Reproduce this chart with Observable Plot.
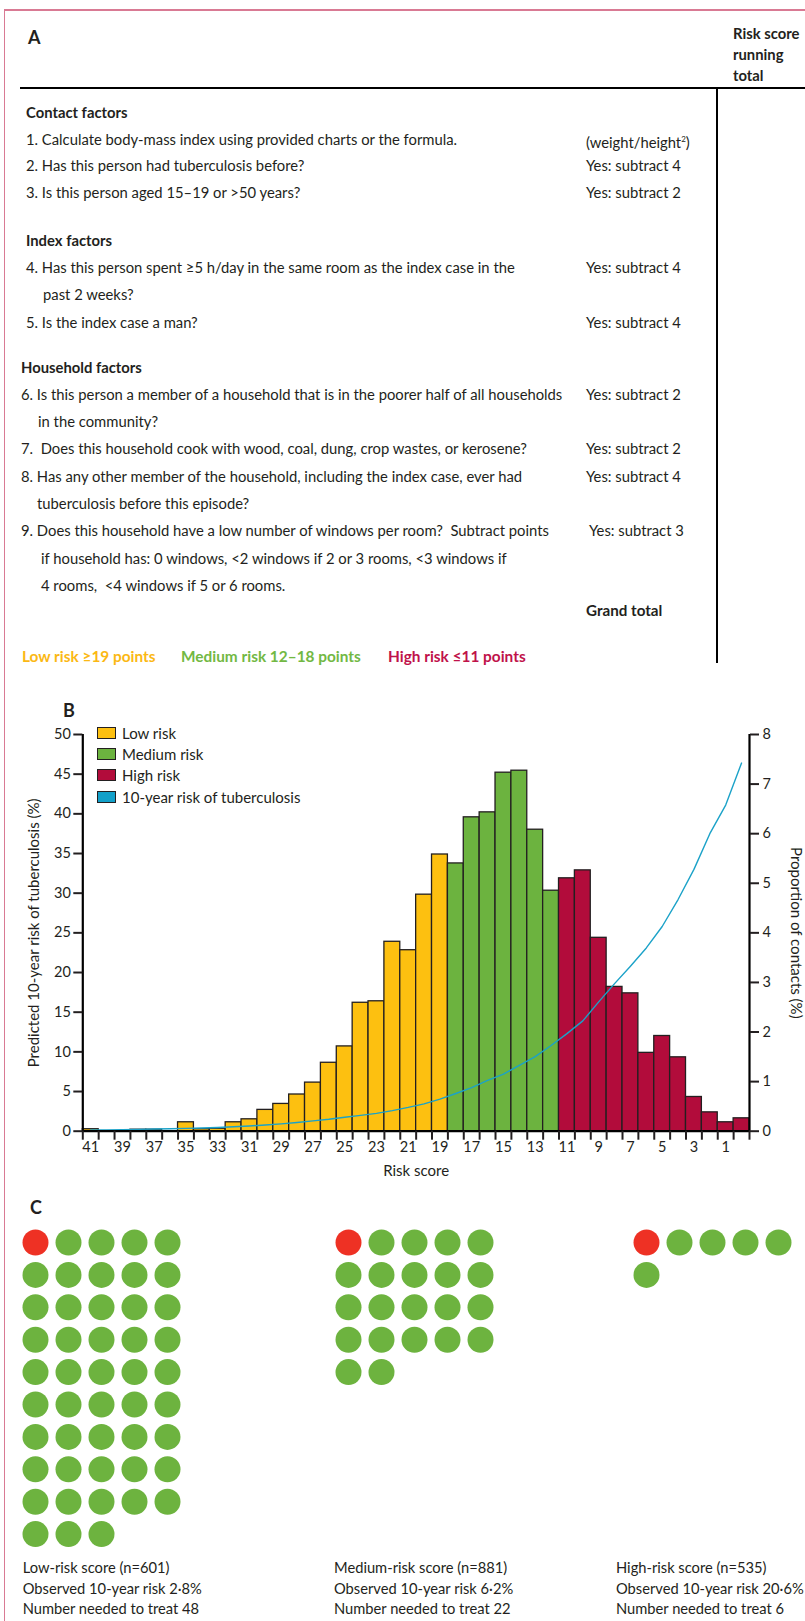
<!DOCTYPE html>
<html>
<head>
<meta charset="utf-8">
<script src="https://cdn.jsdelivr.net/npm/d3@7"></script>
<script src="https://cdn.jsdelivr.net/npm/@observablehq/plot@0.6"></script>
<style>
  html, body { margin: 0; padding: 0; background: #fff; }
  #fig { position: relative; width: 805px; height: 1621px; overflow: hidden; font-family: Lato, "Open Sans", sans-serif; color: #231f20; }
  .t { position: absolute; white-space: pre; line-height: 20px; }
  .b { font-weight: 700; }
  .hl { position: absolute; background: #000; }
  .abs { position: absolute; }
  .abs svg { overflow: visible; }
</style>
</head>
<body>
<div id="fig"></div>
<script>
// ---------------- DATA ----------------
// Panel B: risk score categories (x), share of contacts (bars, right axis) and predicted 10-year risk (line, left axis)
const riskScores = [41,40,39,38,37,36,35,34,33,32,31,30,29,28,27,26,25,24,23,22,21,20,19,18,17,16,15,14,13,12,11,10,9,8,7,6,5,4,3,2,1,0];
const proportionOfContacts = [0.04,0,0,0.03,0.03,0,0.18,0.04,0.05,0.18,0.24,0.43,0.55,0.74,0.98,1.38,1.71,2.59,2.62,3.82,3.65,4.77,5.58,5.40,6.33,6.43,7.23,7.27,6.08,4.85,5.10,5.26,3.90,2.91,2.78,1.58,1.92,1.49,0.69,0.38,0.18,0.26];
const predictedRisk = [0.15,0.17,0.2,0.23,0.27,0.3,0.35,0.4,0.47,0.56,0.66,0.78,0.92,1.1,1.3,1.5,1.75,2.0,2.25,2.6,3.0,3.45,4.05,4.75,5.5,6.4,7.2,8.3,9.4,10.8,12.3,13.9,16.3,18.6,20.8,23.1,25.8,29.2,33.0,37.5,41.1,46.4];
const riskGroups = ["Low risk", "Medium risk", "High risk"];
const lowThreshold = 19;     // Low risk >=19 points
const highThreshold = 11;    // High risk <=11 points
const leftTicks = [0,5,10,15,20,25,30,35,40,45,50];
const rightTicks = [0,1,2,3,4,5,6,7,8];
const xTickLabels = [41,39,37,35,33,31,29,27,25,23,21,19,17,15,13,11,9,7,5,3,1];

// Panel C: number needed to treat per group
const groupNames = ["Low-risk score", "Medium-risk score", "High-risk score"];
const groupN = [601, 881, 535];
const observedRisk = ["2·8%", "6·2%", "20·6%"];
const numberNeededToTreat = [48, 22, 6];

// Panel A: questionnaire
const factorHeadings = ["Contact factors", "Index factors", "Household factors"];
const answers = ["(weight/height<sup style=\"font-size:8px\">2</sup>)", "Yes: subtract 4", "Yes: subtract 2", "Yes: subtract 4", "Yes: subtract 4", "Yes: subtract 2", "Yes: subtract 2", "Yes: subtract 4", "Yes: subtract 3"];
const riskLegend = ["Low risk ≥19 points", "Medium risk 12–18 points", "High risk ≤11 points"];

// ---------------- STYLE ----------------
const colors = {"Low risk": "#fdc010", "Medium risk": "#6cb33f", "High risk": "#b20c3b"};
const legendTextColors = ["#fbb814", "#72b843", "#c0124a"];
const lineColor = "#1ba2c8";
const dotRed = "#ee3124", dotGreen = "#6db33f";
const ink = "#231f20";

const fig = document.getElementById("fig");
function addText(x, yc, html, cls = "", style = "") {
  const d = document.createElement("div");
  d.className = "t " + cls;
  d.style.cssText = `left:${x}px;top:${yc - 10}px;${style}`;
  d.innerHTML = html;
  fig.appendChild(d);
  return d;
}
function addBox(x, y, w, h, color) {
  const d = document.createElement("div");
  d.className = "hl";
  d.style.cssText = `left:${x}px;top:${y}px;width:${w}px;height:${h}px;background:${color};`;
  fig.appendChild(d);
}

// ---------------- FRAME ----------------
addBox(3.5, 9, 802, 1.6, "#d97a94");
addBox(3.5, 9, 1.6, 1612, "#d97a94");

// ---------------- PANEL A ----------------
const fsA = "font-size:14.8px;";
addText(28, 37, "A", "b", "font-size:18px;");
addText(733, 33, "Risk score\nrunning\ntotal", "b", "font-size:14.8px;line-height:21px;");
addBox(20, 87, 785, 2.2, "#000");
addBox(716, 88, 2.2, 575, "#000");

const rightX = 586;
const rowsA = [
  [112, 26, factorHeadings[0], true, null],
  [139, 26, "1. Calculate body-mass index using provided charts or the formula.", false, 0],
  [165, 26, "2. Has this person had tuberculosis before?", false, 1],
  [192, 26, "3. Is this person aged 15–19 or >50 years?", false, 2],
  [240, 26, factorHeadings[1], true, null],
  [267, 26, "4. Has this person spent ≥5 h/day in the same room as the index case in the", false, 3],
  [294, 43, "past 2 weeks?", false, null],
  [322, 26, "5. Is the index case a man?", false, 4],
  [367, 21, factorHeadings[2], true, null],
  [394, 21, "6. Is this person a member of a household that is in the poorer half of all households", false, 5],
  [421, 38, "in the community?", false, null],
  [448, 21, "7.  Does this household cook with wood, coal, dung, crop wastes, or kerosene?", false, 6],
  [476, 21, "8. Has any other member of the household, including the index case, ever had", false, 7],
  [503, 37, "tuberculosis before this episode?", false, null],
  [530, 21, "9. Does this household have a low number of windows per room?  Subtract points", false, 8],
  [558, 41, "if household has: 0 windows, &lt;2 windows if 2 or 3 rooms, &lt;3 windows if", false, null],
  [585, 41, "4 rooms,  &lt;4 windows if 5 or 6 rooms.", false, null]
];
rowsA.forEach(([y, x, txt, bold, ai]) => {
  addText(x, y, txt.replace(/ >/g, " &gt;"), bold ? "b" : "", fsA);
  if (ai !== null) addText(ai === 8 ? rightX + 3 : rightX, y, answers[ai], "", fsA);
});
addText(rightX, 610, "Grand total", "b", "font-size:15.2px;");
const legX = [22, 181, 388];
riskLegend.forEach((t, i) => addText(legX[i], 656, t, "b", `font-size:15.4px;color:${legendTextColors[i]};`));

// ---------------- PANEL B ----------------
addText(63, 710, "B", "b", "font-size:18px;");
const k = 50 / 8; // right axis (0–8 %) mapped onto left axis (0–50 %)
const groupOf = s => s >= lowThreshold ? riskGroups[0] : (s <= highThreshold ? riskGroups[2] : riskGroups[1]);
const table = riskScores.map((s, i) => ({score: s, proportion: proportionOfContacts[i], risk: predictedRisk[i], group: groupOf(s)}));
const bandEdges = d3.range(riskScores.length + 1).map(i => riskScores[0] + 0.5 - i);

const topB = 690, hB = 500;
const plotB = Plot.plot({
  width: 805, height: hB,
  marginTop: 734 - topB, marginBottom: topB + hB - 1130.7, marginLeft: 82.3, marginRight: 805 - 749,
  style: {fontFamily: "Lato, sans-serif", fontSize: "14.5px", color: ink, background: "transparent", overflow: "visible"},
  x: {type: "linear", domain: [bandEdges[0], bandEdges[bandEdges.length - 1]]},
  y: {domain: [0, 50]},
  marks: [
    Plot.rectY(table, {x1: d => d.score + 0.5, x2: d => d.score - 0.5, y1: 0, y2: d => d.proportion * k,
      fill: d => colors[d.group], stroke: ink, strokeWidth: 1.3}),
    Plot.line(table, {x: "score", y: "risk", stroke: lineColor, strokeWidth: 1.4}),
    Plot.ruleY([0], {stroke: "#000", strokeWidth: 2.2}),
    Plot.ruleX([bandEdges[0], bandEdges[bandEdges.length - 1]], {y1: 0, y2: 50, stroke: "#000", strokeWidth: 2.2}),
    Plot.axisY({anchor: "left", ticks: leftTicks, tickSize: 9, tickPadding: 3, strokeWidth: 2, label: null}),
    Plot.axisY({anchor: "right", ticks: rightTicks.map(v => v * k), tickFormat: v => String(Math.round(v / k)), tickSize: 9, tickPadding: 4, strokeWidth: 2, label: null}),
    Plot.axisX({ticks: bandEdges, tickSize: 9, tickFormat: () => "", strokeWidth: 2, label: null}),
    Plot.axisX({ticks: xTickLabels, tickSize: 0, tickPadding: 11, tickFormat: d => String(d), label: null}),
    Plot.text(["Predicted 10-year risk of tuberculosis (%)"], {frameAnchor: "left", textAnchor: "middle", rotate: -90, dx: -49, text: d => d, fontSize: 15}),
    Plot.text(["Proportion of contacts (%)"], {frameAnchor: "right", textAnchor: "middle", rotate: 90, dx: 46, text: d => d, fontSize: 15}),
    Plot.text(["Risk score"], {frameAnchor: "bottom", dy: 45, text: d => d, fontSize: 15})
  ]
});
const holderB = document.createElement("div");
holderB.className = "abs";
holderB.style.cssText = `left:0;top:${topB}px;`;
holderB.appendChild(plotB);
fig.appendChild(holderB);

// legend of panel B
const legendItems = [...riskGroups, "10-year risk of tuberculosis"];
const legendSw = [colors["Low risk"], colors["Medium risk"], colors["High risk"], "#12a0c9"];
const legY = [733, 754, 775, 797];
legendItems.forEach((t, i) => {
  const sw = document.createElement("div");
  sw.className = "abs";
  sw.style.cssText = `left:97px;top:${legY[i] - 6}px;width:17px;height:10px;background:${legendSw[i]};border:1.2px solid ${ink};`;
  fig.appendChild(sw);
  addText(122, legY[i], t, "", "font-size:15px;");
});

// ---------------- PANEL C ----------------
addText(30, 1207, "C", "b", "font-size:18px;");
const dotLeft = [22, 335, 633];
const textLeft = [22.7, 334, 616];
numberNeededToTreat.forEach((nnt, g) => {
  const dots = d3.range(nnt).map(i => ({col: i % 5, row: Math.floor(i / 5), prevented: i === 0}));
  const p = Plot.plot({
    width: 13 + 4 * 33 + 13, height: 13 + 9 * 32.4 + 13,
    margin: 13,
    x: {domain: [0, 4], axis: null},
    y: {domain: [0, 9], reverse: true, axis: null},
    style: {background: "transparent", overflow: "visible"},
    marks: [
      Plot.dot(dots, {x: "col", y: "row", r: 13, fill: d => d.prevented ? dotRed : dotGreen, stroke: "none"})
    ]
  });
  const h = document.createElement("div");
  h.className = "abs";
  h.style.cssText = `left:${dotLeft[g]}px;top:${1242 - 13}px;`;
  h.appendChild(p);
  fig.appendChild(h);
  const cap = `${groupNames[g]} (n=${groupN[g]})\nObserved 10-year risk ${observedRisk[g]}\nNumber needed to treat ${nnt}`;
  addText(textLeft[g], 1567, cap, "", "font-size:14.7px;line-height:20.5px;");
});
</script>
</body>
</html>
